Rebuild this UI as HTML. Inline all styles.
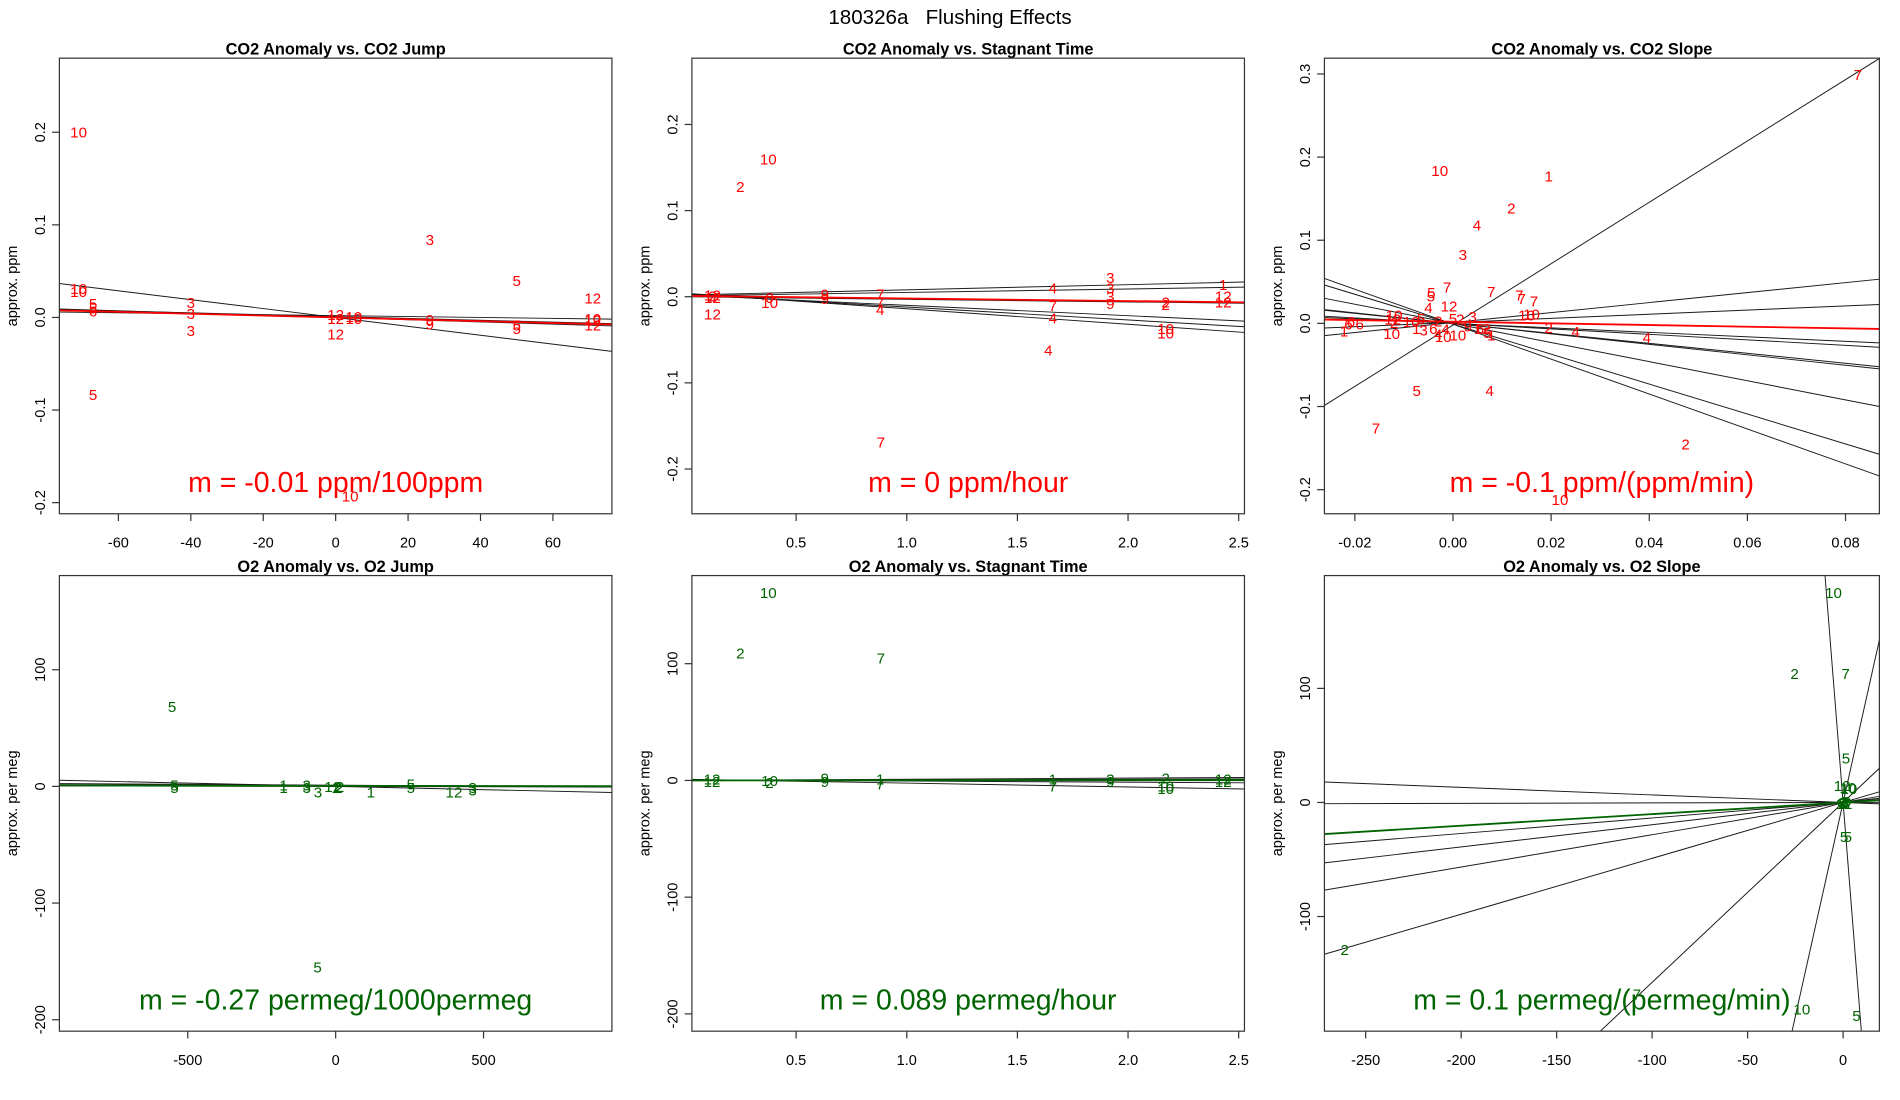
<!DOCTYPE html>
<html><head><meta charset="utf-8"><style>
html,body{margin:0;padding:0;background:#fff;overflow:hidden;width:1900px;height:1100px;}
svg{display:block;font-family:"Liberation Sans",Arial,sans-serif;}
</style></head><body>
<svg id="chart" xmlns="http://www.w3.org/2000/svg" width="1900" height="1100" viewBox="0 0 1568 907.8">
<rect width="1568" height="907.8" fill="#fff"/>
<text x="784" y="20" font-size="17" text-anchor="middle" style="white-space:pre">180326a&#160;&#160;&#160;Flushing Effects</text>
</svg>
<script>
// ---------- DATA ----------
// Panel 1: CO2 Anomaly vs. CO2 Jump
const p1Labels=["10","10","10","5","5","6","3","3","3","12","12","10","10","12","3","9","9","5","5","5","12","12","10","12","5","10"];
const p1X=[-71,-71,-71,-67,-67,-67,-40,-40,-40,0,0,5,5,0,26,26,26,50,50,50,71,71,71,71,-67,4];
const p1Y=[0.20,0.031,0.028,0.015,0.010,0.007,0.016,0.004,-0.014,0.003,-0.001,-0.001,0.001,-0.018,0.084,-0.002,-0.007,0.040,-0.008,-0.012,0.021,-0.003,-0.001,-0.008,-0.083,-0.193];
const p1LineSlopes=[-0.00048,-0.0001,-0.00005,-0.00012];
const p1LineIntercepts=[0,0.001,0.002,0.0];
const p1Fit=[-0.0001,0.0];
const p1XTicks=[-60,-40,-20,0,20,40,60];
const p1YTicks=[-0.2,-0.1,0.0,0.1,0.2];
const p1YTickLabels=["-0.2","-0.1","0.0","0.1","0.2"];

// Panel 2: CO2 Anomaly vs. Stagnant Time
const p2Labels=["10","2","7","12","12","2","12","0","10","9","9","7","7","4","4","7","4","4","3","3","3","9","2","2","10","10","1","12","12"];
const p2X=[0.374,0.248,0.883,0.122,0.122,0.122,0.122,0.38,0.38,0.63,0.63,0.88,0.88,0.88,1.66,1.66,1.66,1.64,1.92,1.92,1.92,1.92,2.17,2.17,2.17,2.17,2.43,2.43,2.43];
const p2Y=[0.160,0.128,-0.169,0.002,-0.001,0.001,-0.020,-0.001,-0.007,0.003,-0.002,0.003,-0.006,-0.015,0.010,-0.010,-0.025,-0.062,0.022,0.010,0.000,-0.008,-0.006,-0.009,-0.037,-0.042,0.014,0.001,-0.006];
const p2LineSlopes=[0.006,0.004,-0.003,-0.012,-0.018,-0.015];
const p2LineIntercepts=[0.002,0.001,0.0,0.002,0.004,0.003];
const p2Fit=[-0.003,0.001];
const p2XTicks=[0.5,1.0,1.5,2.0,2.5];
const p2XTickLabels=["0.5","1.0","1.5","2.0","2.5"];
const p2YTicks=[-0.2,-0.1,0.0,0.1,0.2];
const p2YTickLabels=["-0.2","-0.1","0.0","0.1","0.2"];

// Panel 3: CO2 Anomaly vs. CO2 Slope
const p3Labels=["7","10","1","2","4","3","5","5","7","7","7","7","7","12","4","10","10","2","4","4","4","5","7","2","10","1","6","6","6","10","10","12","2","10","1","3","5","6","4","10","10","4","2","3","5","9","6","12","5","1","2"];
const p3X=[0.0825,-0.0027,0.0195,0.0119,0.0049,0.0020,-0.0044,-0.0045,-0.0012,0.0078,0.0135,0.0140,0.0165,-0.0008,-0.0050,0.0150,0.0160,0.0195,0.0250,0.0395,0.0075,-0.0074,-0.0157,0.0474,0.0218,-0.0222,-0.0208,-0.0190,-0.0213,-0.0125,-0.0120,-0.0123,-0.0120,-0.0085,-0.0075,-0.0060,-0.0065,-0.0040,-0.0030,-0.0020,0.0010,-0.0015,0.0015,0.0040,0.0000,0.0030,0.0055,0.0060,0.0070,0.0078,-0.0030];
const p3Y=[0.299,0.184,0.177,0.139,0.118,0.083,0.037,0.033,0.044,0.038,0.034,0.030,0.027,0.021,0.019,0.010,0.011,-0.005,-0.010,-0.017,-0.081,-0.081,-0.126,-0.145,-0.212,-0.009,0.002,-0.001,-0.001,-0.012,0.010,0.005,0.001,0.002,-0.006,-0.008,0.006,-0.006,-0.013,-0.016,-0.014,-0.007,0.005,0.008,0.006,-0.003,-0.006,-0.006,-0.011,-0.014,0.003];
const p3LineSlopes=[3.69,0.6,0.25,-0.27,-0.33,-0.6,-0.63,-1.15,-1.8,-2.1];
const p3LineIntercepts=[-0.002,0.001,0.001,0.0,0.0,0.0,0.0,0.0,-0.001,-0.001];
const p3Fit=[-0.1,0.002];
const p3XTicks=[-0.02,0.0,0.02,0.04,0.06,0.08];
const p3XTickLabels=["-0.02","0.00","0.02","0.04","0.06","0.08"];
const p3YTicks=[-0.2,-0.1,0.0,0.1,0.2,0.3];
const p3YTickLabels=["-0.2","-0.1","0.0","0.1","0.2","0.3"];

// Panel 4: O2 Anomaly vs. O2 Jump
const p4Labels=["5","5","5","1","1","3","3","3","12","1","2","2","1","5","5","12","3","3","5"];
const p4X=[-553,-545,-545,-176,-176,-98,-98,-60,-10,0,10,15,119,254,254,400,463,463,-61];
const p4Y=[68.5,1,-1,1,-1,1,-1,-5,0,-1,-1,0,-5,2,-1,-5,-1,-3,-155];
const p4LineSlopes=[-0.0056,-0.0015,-0.001,-0.0005];
const p4LineIntercepts=[0,1,0.5,0];
const p4Fit=[-0.00027,0.5];
const p4XTicks=[-500,0,500];
const p4YTicks=[-200,-100,0,100];

// Panel 5: O2 Anomaly vs. Stagnant Time
const p5Labels=["10","2","7","12","12","10","2","9","9","1","7","1","7","3","9","2","10","10","12","12"];
const p5X=[0.374,0.248,0.883,0.12,0.12,0.38,0.38,0.63,0.63,0.88,0.88,1.66,1.66,1.92,1.92,2.17,2.17,2.17,2.43,2.43];
const p5Y=[161,109,105,1,-1,0,-2,2,-1,1,-3,1,-5,1,-1,2,-5,-7,1,-1];
const p5LineSlopes=[-3.3,1.0,0.5,-1.0];
const p5LineIntercepts=[1,0,0,0.5];
const p5Fit=[0.089,0];
const p5XTicks=[0.5,1.0,1.5,2.0,2.5];
const p5XTickLabels=["0.5","1.0","1.5","2.0","2.5"];
const p5YTicks=[-200,-100,0,100];

// Panel 6: O2 Anomaly vs. O2 Slope
const p6Labels=["10","2","7","5","12","10","10","2","7","10","5","5","5","1","2","3","4","6","9","12"];
const p6X=[-5,-25.4,1.3,1.5,-0.5,2.5,3,-261,-108,-21.6,7,0.5,2.5,0,0.5,1.5,1,-1,2,0.5];
const p6Y=[184,113,113,39,15,13,12,-129,-168,-181,-187,-30,-30,0,1,-1,0,0,1,-1];
const p6LineSlopes=[-0.066,0.004,0.136,0.195,0.283,0.49,1.577,7.5,-21];
const p6LineIntercepts=[0,0,0,0,0,0,0,0,0];
const p6Fit=[0.102,0];
const p6XTicks=[-250,-200,-150,-100,-50,0];
const p6YTicks=[-100,0,100];

// ---------- DRAWING ----------
const NS="http://www.w3.org/2000/svg";
const svg=document.getElementById("chart");
function mk(tag,attrs,parent){const e=document.createElementNS(NS,tag);for(const k in attrs)e.setAttribute(k,attrs[k]);(parent||svg).appendChild(e);return e;}

const panels=[
 {id:"co2-jump",title:"CO2 Anomaly vs. CO2 Jump",box:[49,48,505,424],xr:[-76.3,76.3],yr:[-0.212,0.28],labels:p1Labels,xs:p1X,ys:p1Y,sl:p1LineSlopes,ic:p1LineIntercepts,fit:p1Fit,xt:p1XTicks,xtl:p1XTicks.map(String),yt:p1YTicks,ytl:p1YTickLabels,col:"#ff0000",ylab:"approx. ppm",m:"m = -0.01 ppm/100ppm"},
 {id:"co2-stagnant",title:"CO2 Anomaly vs. Stagnant Time",box:[571,48,1027,424],xr:[0.029,2.526],yr:[-0.252,0.277],labels:p2Labels,xs:p2X,ys:p2Y,sl:p2LineSlopes,ic:p2LineIntercepts,fit:p2Fit,xt:p2XTicks,xtl:p2XTickLabels,yt:p2YTicks,ytl:p2YTickLabels,col:"#ff0000",ylab:"approx. ppm",m:"m = 0 ppm/hour"},
 {id:"co2-slope",title:"CO2 Anomaly vs. CO2 Slope",box:[1093,48,1551,424],xr:[-0.0262,0.0869],yr:[-0.229,0.319],labels:p3Labels,xs:p3X,ys:p3Y,sl:p3LineSlopes,ic:p3LineIntercepts,fit:p3Fit,xt:p3XTicks,xtl:p3XTickLabels,yt:p3YTicks,ytl:p3YTickLabels,col:"#ff0000",ylab:"approx. ppm",m:"m = -0.1 ppm/(ppm/min)"},
 {id:"o2-jump",title:"O2 Anomaly vs. O2 Jump",box:[49,475,505,851],xr:[-934,934],yr:[-209.8,180.7],labels:p4Labels,xs:p4X,ys:p4Y,sl:p4LineSlopes,ic:p4LineIntercepts,fit:p4Fit,xt:p4XTicks,xtl:p4XTicks.map(String),yt:p4YTicks,ytl:p4YTicks.map(String),col:"#006400",ylab:"approx. per meg",m:"m = -0.27 permeg/1000permeg"},
 {id:"o2-stagnant",title:"O2 Anomaly vs. Stagnant Time",box:[571,475,1027,851],xr:[0.029,2.526],yr:[-214.8,175.5],labels:p5Labels,xs:p5X,ys:p5Y,sl:p5LineSlopes,ic:p5LineIntercepts,fit:p5Fit,xt:p5XTicks,xtl:p5XTickLabels,yt:p5YTicks,ytl:p5YTicks.map(String),col:"#006400",ylab:"approx. per meg",m:"m = 0.089 permeg/hour"},
 {id:"o2-slope",title:"O2 Anomaly vs. O2 Slope",box:[1093,475,1551,851],xr:[-271.6,19],yr:[-200.5,198.9],labels:p6Labels,xs:p6X,ys:p6Y,sl:p6LineSlopes,ic:p6LineIntercepts,fit:p6Fit,xt:p6XTicks,xtl:p6XTicks.map(String),yt:p6YTicks,ytl:p6YTicks.map(String),col:"#006400",ylab:"approx. per meg",m:"m = 0.1 permeg/(permeg/min)"}
];

const defs=mk("defs",{});
panels.forEach((p,pi)=>{
  const [L,T,R,B]=p.box;
  const sx=v=>L+(v-p.xr[0])/(p.xr[1]-p.xr[0])*(R-L);
  const sy=v=>B-(v-p.yr[0])/(p.yr[1]-p.yr[0])*(B-T);
  const g=mk("g",{});
  
  
  const cp=mk("clipPath",{id:"clip"+pi},defs);
  mk("rect",{x:L,y:T,width:R-L,height:B-T},cp);
  const t=mk("text",{x:(L+R)/2,y:T-3,"font-size":"13.5","font-weight":"bold","text-anchor":"middle"},g);
  t.textContent=p.title;
  
  
  const pg=mk("g",{"clip-path":"url(#clip"+pi+")"},g);
  
  
  p.sl.forEach((s,i)=>{
    const x0=p.xr[0],x1=p.xr[1];
    const ln=mk("line",{x1:sx(x0),y1:sy(p.ic[i]+s*x0),x2:sx(x1),y2:sy(p.ic[i]+s*x1),stroke:"#1a1a1a","stroke-width":"0.8"},pg);
    
    
  });
  const fl=mk("line",{x1:sx(p.xr[0]),y1:sy(p.fit[1]+p.fit[0]*p.xr[0]),x2:sx(p.xr[1]),y2:sy(p.fit[1]+p.fit[0]*p.xr[1]),stroke:p.col,"stroke-width":"1.5"},pg);
  
  
  p.labels.forEach((lab,i)=>{
    const tx=mk("text",{x:sx(p.xs[i]),y:sy(p.ys[i])+4.5,"font-size":"12.5","text-anchor":"middle",fill:p.col},pg);
    tx.textContent=lab;
    
    
  });
  const mt=mk("text",{x:(L+R)/2,y:B-18,"font-size":"23.5","text-anchor":"middle",fill:p.col},g);
  mt.textContent=p.m;
  
  
  const bx=mk("rect",{x:L,y:T,width:R-L,height:B-T,fill:"none",stroke:"#333","stroke-width":"1"},g);
  
  
  const xa=mk("g",{},g);
  
  
  p.xt.forEach((v,i)=>{
    const x=sx(v);
    mk("line",{x1:x,y1:B,x2:x,y2:B+6,stroke:"#333","stroke-width":"1"},xa);
    const tl=mk("text",{x:x,y:B+28,"font-size":"12","text-anchor":"middle"},xa);
    tl.textContent=p.xtl[i];
    
    
  });
  const ya=mk("g",{},g);
  
  
  p.yt.forEach((v,i)=>{
    const y=sy(v);
    mk("line",{x1:L-6,y1:y,x2:L,y2:y,stroke:"#333","stroke-width":"1"},ya);
    const tl=mk("text",{x:0,y:0,"font-size":"12","text-anchor":"middle",transform:"translate("+(L-12)+","+y+") rotate(-90)"},ya);
    tl.textContent=p.ytl[i];
    
    
  });
  const yl=mk("text",{x:0,y:0,"font-size":"12","text-anchor":"middle",transform:"translate("+(L-35)+","+((T+B)/2)+") rotate(-90)"},g);
  yl.textContent=p.ylab;
  
  
});
</script>
</body></html>
